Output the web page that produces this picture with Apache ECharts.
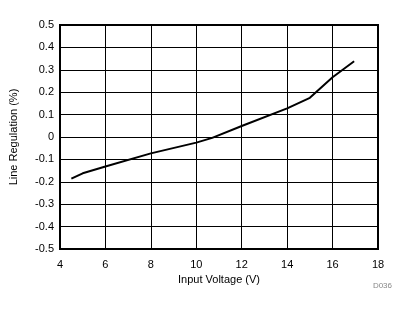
<!DOCTYPE html>
<html><head><meta charset="utf-8">
<script src="https://cdn.jsdelivr.net/npm/echarts@6/dist/echarts.min.js"></script>
<style>html,body{margin:0;padding:0;background:#fff}#c{width:410px;height:312px}</style>
</head><body><div id="c"></div>
<script>
const inputVoltage = [4.5, 5.0, 6.0, 8.0, 10.0, 10.7, 12.0, 14.0, 15.0, 16.0, 16.95];
const lineRegulation = [-0.186, -0.162, -0.132, -0.073, -0.025, -0.004, 0.049, 0.128, 0.175, 0.267, 0.338];
const xTicks = [4, 6, 8, 10, 12, 14, 16, 18];
const yTicks = [-0.5, -0.4, -0.3, -0.2, -0.1, 0, 0.1, 0.2, 0.3, 0.4, 0.5];

const chart = echarts.init(document.getElementById('c'), null, {renderer: 'canvas'});
const font = 'Liberation Sans, Arial, sans-serif';
chart.setOption({
  animation: false,
  backgroundColor: '#fff',
  grid: {left: 59, top: 25, right: 32, bottom: 63, show: true, borderColor: '#000', borderWidth: 2, backgroundColor: 'transparent'},
  xAxis: {
    type: 'value', min: xTicks[0], max: xTicks[xTicks.length - 1], interval: 2,
    name: 'Input Voltage (V)', nameLocation: 'middle', nameGap: 24,
    nameTextStyle: {fontFamily: font, fontSize: 11, color: '#000'},
    axisLine: {show: false}, axisTick: {show: false},
    axisLabel: {fontFamily: font, fontSize: 11, color: '#000', margin: 10},
    splitLine: {show: true, lineStyle: {color: '#000', width: 1}}
  },
  yAxis: {
    type: 'value', min: yTicks[0], max: yTicks[yTicks.length - 1], interval: 0.1,
    name: 'Line Regulation (%)', nameLocation: 'middle', nameGap: 41, nameRotate: 90,
    nameTextStyle: {fontFamily: font, fontSize: 11, color: '#000'},
    axisLine: {show: false}, axisTick: {show: false},
    axisLabel: {fontFamily: font, fontSize: 11, color: '#000', margin: 6,
      formatter: v => { const r = Math.round(v * 10) / 10; return r === 0 ? '0' : String(r); }},
    splitLine: {show: true, lineStyle: {color: '#000', width: 1}}
  },
  graphic: [{type: 'text', right: 18, top: 282, style: {text: 'D036', fontFamily: font, fontSize: 8, fill: '#888'}}],
  series: [{
    type: 'line', data: inputVoltage.map((x, i) => [x, lineRegulation[i]]),
    showSymbol: false, smooth: false, lineStyle: {color: '#000', width: 2}
  }]
});
</script></body></html>
